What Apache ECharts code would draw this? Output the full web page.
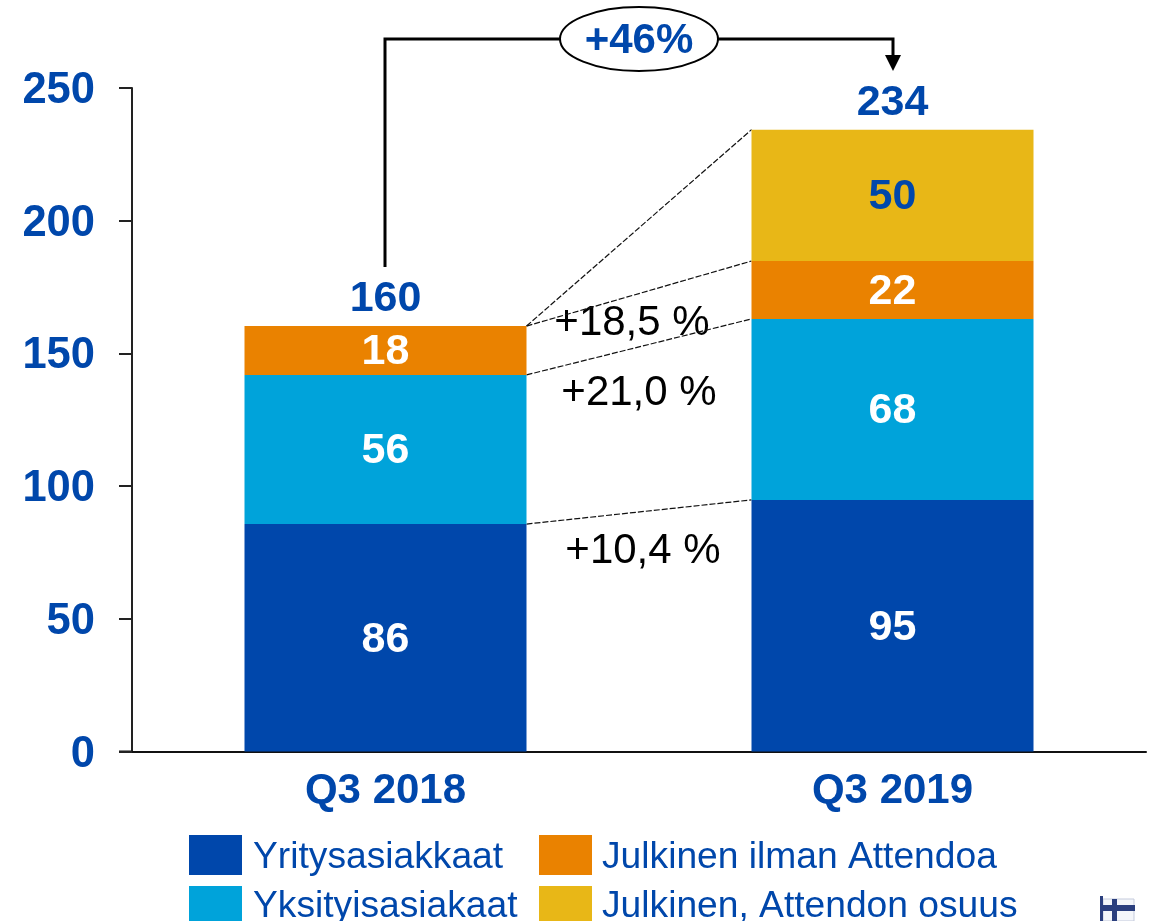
<!DOCTYPE html>
<html>
<head>
<meta charset="utf-8">
<style>html,body{margin:0;padding:0;background:#fff}#chart{width:1150px;height:921px}</style>
<script src="https://cdn.jsdelivr.net/npm/echarts@6/dist/echarts.min.js"></script>
</head>
<body>
<div id="chart"></div>
<script>
const categories = ["Q3 2018", "Q3 2019"];
const yritys = [85.7, 94.8];
const yksityis = [56.2, 68.2];
const julkinenIlman = [18.4, 21.8];
const julkinenAttendon = [null, 49.5];
const totals = [160.3, 234.3];
const growthLabels = ["+18,5 %", "+21,0 %", "+10,4 %"];
const totalGrowth = "+46%";

const blue = "#0047AB";
const cyan = "#00A3DA";
const orange = "#EA8200";
const yellow = "#E8B717";
const font = "Liberation Sans, Arial, sans-serif";
const barWidth = 282;

// dashed lines between the bars: [value at 2018 bar, value at 2019 bar]
const stack2019a = yritys[1] + yksityis[1];
const connectors = [
  [yritys[0], yritys[1]],
  [yritys[0] + yksityis[0], stack2019a],
  [totals[0], stack2019a + julkinenIlman[1]],
  [totals[0], totals[1]]
];

function barSeries(name, values, color, labelColor) {
  return {
    type: "bar",
    name: name,
    stack: "total",
    barWidth: barWidth,
    data: values,
    itemStyle: { color: color },
    label: {
      show: true,
      position: "inside",
      color: labelColor,
      fontFamily: font,
      fontWeight: "bold",
      fontSize: 43,
      offset: [0, 2],
      formatter: function (p) { return Math.round(p.value); }
    }
  };
}

function legendColumn(left, names, gap) {
  return {
    left: left, top: 835, height: 140, orient: "vertical",
    itemWidth: 53, itemHeight: 40, itemGap: 10, padding: 0, icon: "rect",
    data: names,
    // second row sits a little higher so its descenders stay on the page
    formatter: function (name) {
      return (name === names[0] ? "{t|" : "{b|") + name + "}";
    },
    textStyle: {
      padding: [0, 0, 0, gap],
      rich: {
        t: { color: blue, fontFamily: font, fontSize: 37.2, padding: [5, 0, 0, 0] },
        b: { color: blue, fontFamily: font, fontSize: 37.2, padding: [1, 0, 0, 0] }
      }
    }
  };
}

var chart = echarts.init(document.getElementById("chart"), null, { renderer: "canvas" });

var option = {
  animation: false,
  grid: { left: 132, right: 4, top: 88, bottom: 169.5 },
  xAxis: {
    type: "category",
    data: categories,
    axisLine: { lineStyle: { color: "#111", width: 2 } },
    axisTick: { show: false },
    axisLabel: {
      color: blue,
      fontFamily: font,
      fontWeight: "bold",
      fontSize: 42,
      margin: 19
    }
  },
  yAxis: {
    type: "value",
    min: 0,
    max: 250,
    interval: 50,
    splitLine: { show: false },
    axisLine: { show: true, lineStyle: { color: "#222", width: 2 } },
    axisTick: { show: true, length: 13, lineStyle: { color: "#222", width: 2 } },
    axisLabel: {
      color: blue,
      fontFamily: font,
      fontWeight: "bold",
      fontSize: 43.5,
      margin: 37,
      verticalAlign: "top",
      lineHeight: 6
    }
  },
  legend: [
    legendColumn(189, ["Yritysasiakkaat", "Yksityisasiakaat"], 6),
    legendColumn(539, ["Julkinen ilman Attendoa", "Julkinen, Attendon osuus"], 5)
  ],
  graphic: [
    // the 0 tick does not get drawn by the axis
    { type: "line", silent: true, shape: { x1: 119, y1: 751.5, x2: 132, y2: 751.5 }, style: { stroke: "#111", lineWidth: 2 } },
    // bracket with the total growth
    { type: "polyline", silent: true, shape: { points: [[385, 267], [385, 39], [893, 39], [893, 56]] }, style: { stroke: "#000", lineWidth: 3, fill: null } },
    { type: "polygon", silent: true, shape: { points: [[885, 55], [901, 55], [893, 71]] }, style: { fill: "#000" } },
    { type: "ellipse", silent: true, shape: { cx: 639, cy: 39, rx: 79, ry: 32 }, style: { fill: "#fff", stroke: "#000", lineWidth: 2 } },
    { type: "text", silent: true, style: { x: 639, y: 41, text: totalGrowth, align: "center", verticalAlign: "middle", fill: blue, font: "bold 42px " + font } },
    // growth per segment
    { type: "text", silent: true, style: { x: 632, y: 323, text: growthLabels[0], align: "center", verticalAlign: "middle", fill: "#000", font: "42px " + font } },
    { type: "text", silent: true, style: { x: 639, y: 393, text: growthLabels[1], align: "center", verticalAlign: "middle", fill: "#000", font: "42px " + font } },
    { type: "text", silent: true, style: { x: 643, y: 551, text: growthLabels[2], align: "center", verticalAlign: "middle", fill: "#000", font: "42px " + font } },
    // small flag in the corner
    { type: "rect", silent: true, shape: { x: 1103, y: 899, width: 31, height: 22 }, style: { fill: "#f4f6fa", stroke: "#c5cbdc", lineWidth: 1 } },
    { type: "rect", silent: true, shape: { x: 1103, y: 905, width: 32, height: 6 }, style: { fill: "#2b3f7e" } },
    { type: "rect", silent: true, shape: { x: 1112, y: 899, width: 5, height: 22 }, style: { fill: "#2b3f7e" } },
    { type: "rect", silent: true, shape: { x: 1100, y: 896, width: 3, height: 25 }, style: { fill: "#2b3f7e" } }
  ],
  series: [
    barSeries("Yritysasiakkaat", yritys, blue, "#fff"),
    barSeries("Yksityisasiakaat", yksityis, cyan, "#fff"),
    barSeries("Julkinen ilman Attendoa", julkinenIlman, orange, "#fff"),
    barSeries("Julkinen, Attendon osuus", julkinenAttendon, yellow, blue),
    {
      type: "scatter",
      data: totals,
      symbolSize: 0,
      silent: true,
      itemStyle: { opacity: 1 },
      label: {
        show: true,
        position: "top",
        distance: 5,
        color: blue,
        fontFamily: font,
        fontWeight: "bold",
        fontSize: 43,
        opacity: 1,
        formatter: function (p) { return Math.round(p.value); }
      }
    },
    {
      type: "custom",
      silent: true,
      data: connectors,
      encode: { y: [0, 1] },
      renderItem: function (params, api) {
        var from = api.coord([0, api.value(0)]);
        var to = api.coord([1, api.value(1)]);
        return {
          type: "line",
          shape: { x1: from[0] + barWidth / 2, y1: from[1], x2: to[0] - barWidth / 2, y2: to[1] },
          style: { stroke: "#111", lineWidth: 1.2, lineDash: [6, 2] }
        };
      }
    }
  ]
};

chart.setOption(option);
</script>
</body>
</html>
